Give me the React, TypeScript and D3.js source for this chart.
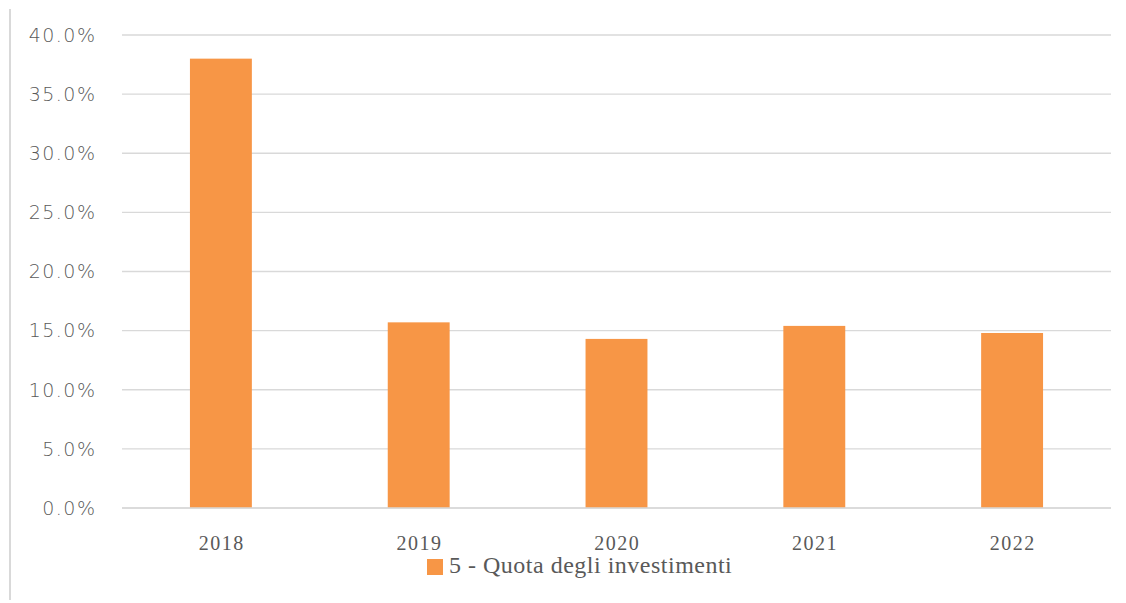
import React from "react";
import * as d3 from "d3";

const categories = ["2018", "2019", "2020", "2021", "2022"];
const values = [0.38, 0.157, 0.143, 0.154, 0.148];
const yTicks = [0, 0.05, 0.1, 0.15, 0.2, 0.25, 0.3, 0.35, 0.4];
const seriesName = "5 - Quota degli investimenti";

const W = 1126;
const H = 603;
const left = 122;
const right = 1111;
const top = 35;
const bottom = 508;

export default function App() {
  const x = d3.scaleBand<string>().domain(categories).range([left, right]).padding(0);
  const y = d3.scaleLinear().domain([0, 0.4]).range([bottom, top]);
  const barW = x.bandwidth() * 0.313;
  const fmt = d3.format(".1%");
  const serif = "'Liberation Serif', 'DejaVu Serif', serif";
  const sans = "'DejaVu Sans', 'Open Sans', sans-serif";

  return (
    <svg
      width={W}
      height={H}
      style={{ position: "absolute", left: 0, top: 0, background: "#fff" }}
    >
      <line x1={10} x2={10} y1={9} y2={600} stroke="#d9d9d9" strokeWidth={2} />
      {yTicks.map((t) => (
        <g key={t}>
          <line
            x1={left}
            x2={right}
            y1={y(t)}
            y2={y(t)}
            stroke="#d9d9d9"
            strokeWidth={1.3}
          />
          <text
            x={96.5}
            y={y(t)}
            dy="0.36em"
            textAnchor="end"
            fontFamily={sans}
            fontWeight={200}
            fontSize={19}
            letterSpacing={1.5}
            fill="#595959"
          >
            {fmt(t)}
          </text>
        </g>
      ))}
      {categories.map((c, i) => {
        const cx = (x(c) as number) + x.bandwidth() / 2;
        return (
          <g key={c}>
            <rect
              x={cx - barW / 2}
              y={y(values[i])}
              width={barW}
              height={y(0) - y(values[i])}
              fill="#f79646"
            />
            <text
              x={cx + 0.75}
              y={550}
              textAnchor="middle"
              fontFamily={serif}
              fontSize={20}
              letterSpacing={1.5}
              fill="#595959"
            >
              {c}
            </text>
          </g>
        );
      })}
      <line x1={left} x2={right} y1={bottom} y2={bottom} stroke="#d9d9d9" strokeWidth={1.5} />
      <rect x={427} y={559} width={16} height={16} fill="#f79646" />
      <text
        x={449}
        y={573}
        fontFamily={serif}
        fontSize={24}
        letterSpacing={0.5}
        fill="#595959"
      >
        {seriesName}
      </text>
    </svg>
  );
}
